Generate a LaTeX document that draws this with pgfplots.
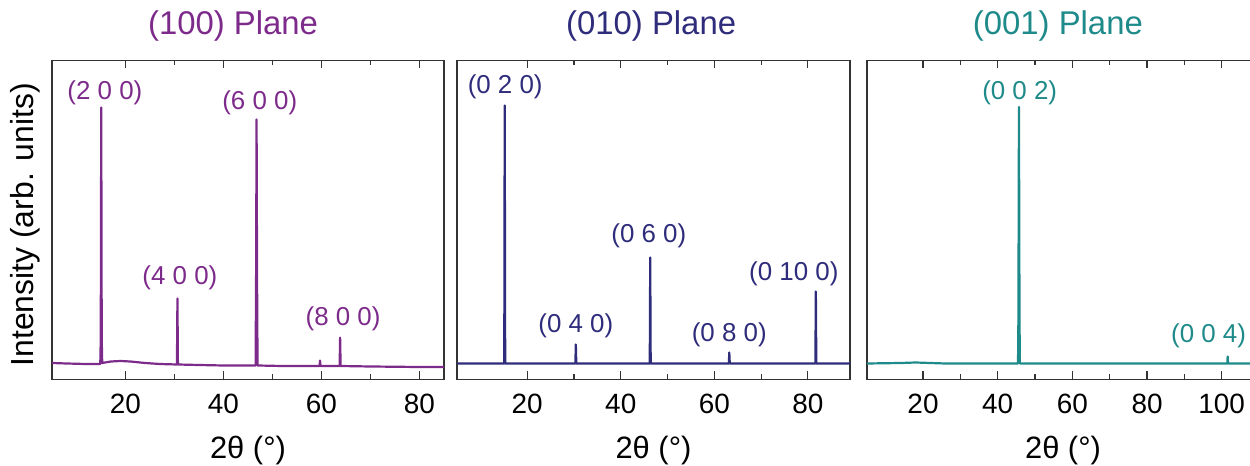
\documentclass[border=0pt]{standalone}
\usepackage{fontspec}
\setmainfont{Liberation Sans}
\usepackage{pgfplots}
\pgfplotsset{compat=1.18}
\definecolor{cA}{HTML}{7D2B8B}
\definecolor{cB}{HTML}{2E2C7B}
\definecolor{cC}{HTML}{1F8A8A}
\definecolor{frame}{HTML}{333333}
\pgfplotsset{
  xrd/.style={
    scale only axis,
    width=392bp, height=319bp,
    anchor=south west,
    ymin=0, ymax=319,
    ytick=\empty,
    xmin=5,
    minor x tick num=1,
    tick align=inside,
    xtick pos=both,
    major tick length=8bp,
    minor tick length=5bp,
    axis line style={draw=frame, line width=1.5bp},
    every tick/.style={draw=frame, line width=1.2bp},
    /pgf/number format/assume math mode=true,
    xticklabel style={font=\fontsize{28}{30}\selectfont, inner sep=0pt, yshift=-14bp},
    xlabel={2θ (°)},
    xlabel style={font=\fontsize{31}{34}\selectfont, at={(axis description cs:0.5,0)}, anchor=center, yshift=-71bp},
    title style={font=\fontsize{33}{36}\selectfont, anchor=center, yshift=29bp},
    every axis plot/.append style={line width=2.2bp, line join=round, mark=none},
    clip=true,
  },
}
\tikzset{pk/.style={font=\fontsize{26}{28}\selectfont, anchor=center, inner sep=0pt}}
\begin{document}
\begin{tikzpicture}
\useasboundingbox (0,0) rectangle (1250bp,466bp);

% (100) plane
\begin{axis}[xrd, at={(52bp,86.5bp)}, xmax=85,
  xtick={20,40,60,80},
  title={\color{cA}(100) Plane},
  title style={at={(axis description cs:0.462,1)}},
  ylabel={Intensity (arb. units)},
  ylabel style={font=\fontsize{32}{35}\selectfont, at={(axis description cs:-0.069,0.485)}, anchor=center},
]
\addplot[cA] coordinates {
(5,16.5) (8,16) (12,15.5) (14.85,15.5) (14.95,40) (15.05,272) (15.15,40) (15.25,16.5)
(17,18) (19,18.5) (21,18) (24,16.5) (27,15.5) (30.5,15) (30.6,81) (30.7,15)
(35,14.5) (40,14) (46.55,14) (46.65,100) (46.75,260) (46.85,100) (46.95,14)
(52,13.5) (59.6,13.5) (59.7,19) (59.8,13.5) (63.7,13.5) (63.8,42) (63.9,13.5)
(70,13) (80,12.5) (85,12.5)};
\node[pk, cA] at (axis cs:15.8,287) {(2 0 0)};
\node[pk, cA] at (axis cs:31.1,101.5) {(4 0 0)};
\node[pk, cA] at (axis cs:47.4,276.5) {(6 0 0)};
\node[pk, cA] at (axis cs:64.4,61) {(8 0 0)};
\end{axis}

% (010) plane
\begin{axis}[xrd, at={(457bp,86.5bp)}, xmax=89, width=393bp,
  xtick={20,40,60,80},
  title={\color{cB}(010) Plane},
  title style={at={(axis description cs:0.494,1)}},
]
\addplot[cB] coordinates {
(5,16) (15.1,16) (15.2,274) (15.3,16) (30.3,16) (30.4,35) (30.5,16)
(46.2,16) (46.3,122) (46.4,16) (63.1,16) (63.2,27) (63.3,16)
(81.6,16) (81.7,88) (81.8,16) (89,16)};
\node[pk, cB] at (axis cs:15.3,293) {(0 2 0)};
\node[pk, cB] at (axis cs:30.4,53.3) {(0 4 0)};
\node[pk, cB] at (axis cs:46.0,143.7) {(0 6 0)};
\node[pk, cB] at (axis cs:63.2,45) {(0 8 0)};
\node[pk, cB] at (axis cs:77.0,105.5) {(0 10 0)};
\end{axis}

% (001) plane
\begin{axis}[xrd, at={(867bp,86.5bp)}, xmax=110,
  xtick={20,40,60,80,100},
  title={\color{cC}(001) Plane},
  title style={at={(axis description cs:0.487,1)}},
]
\addplot[cC] coordinates {
(5,16) (14,16.5) (18,17) (22,16.5) (26,16) (45.45,16) (45.55,60) (45.7,272.5) (45.85,60) (45.95,16)
(101.5,16) (101.6,23) (101.7,16) (110,16)};
\node[pk, cC] at (axis cs:45.9,287) {(0 0 2)};
\node[pk, cC] at (axis cs:96.5,43.7) {(0 0 4)};
\end{axis}
\end{tikzpicture}
\end{document}
